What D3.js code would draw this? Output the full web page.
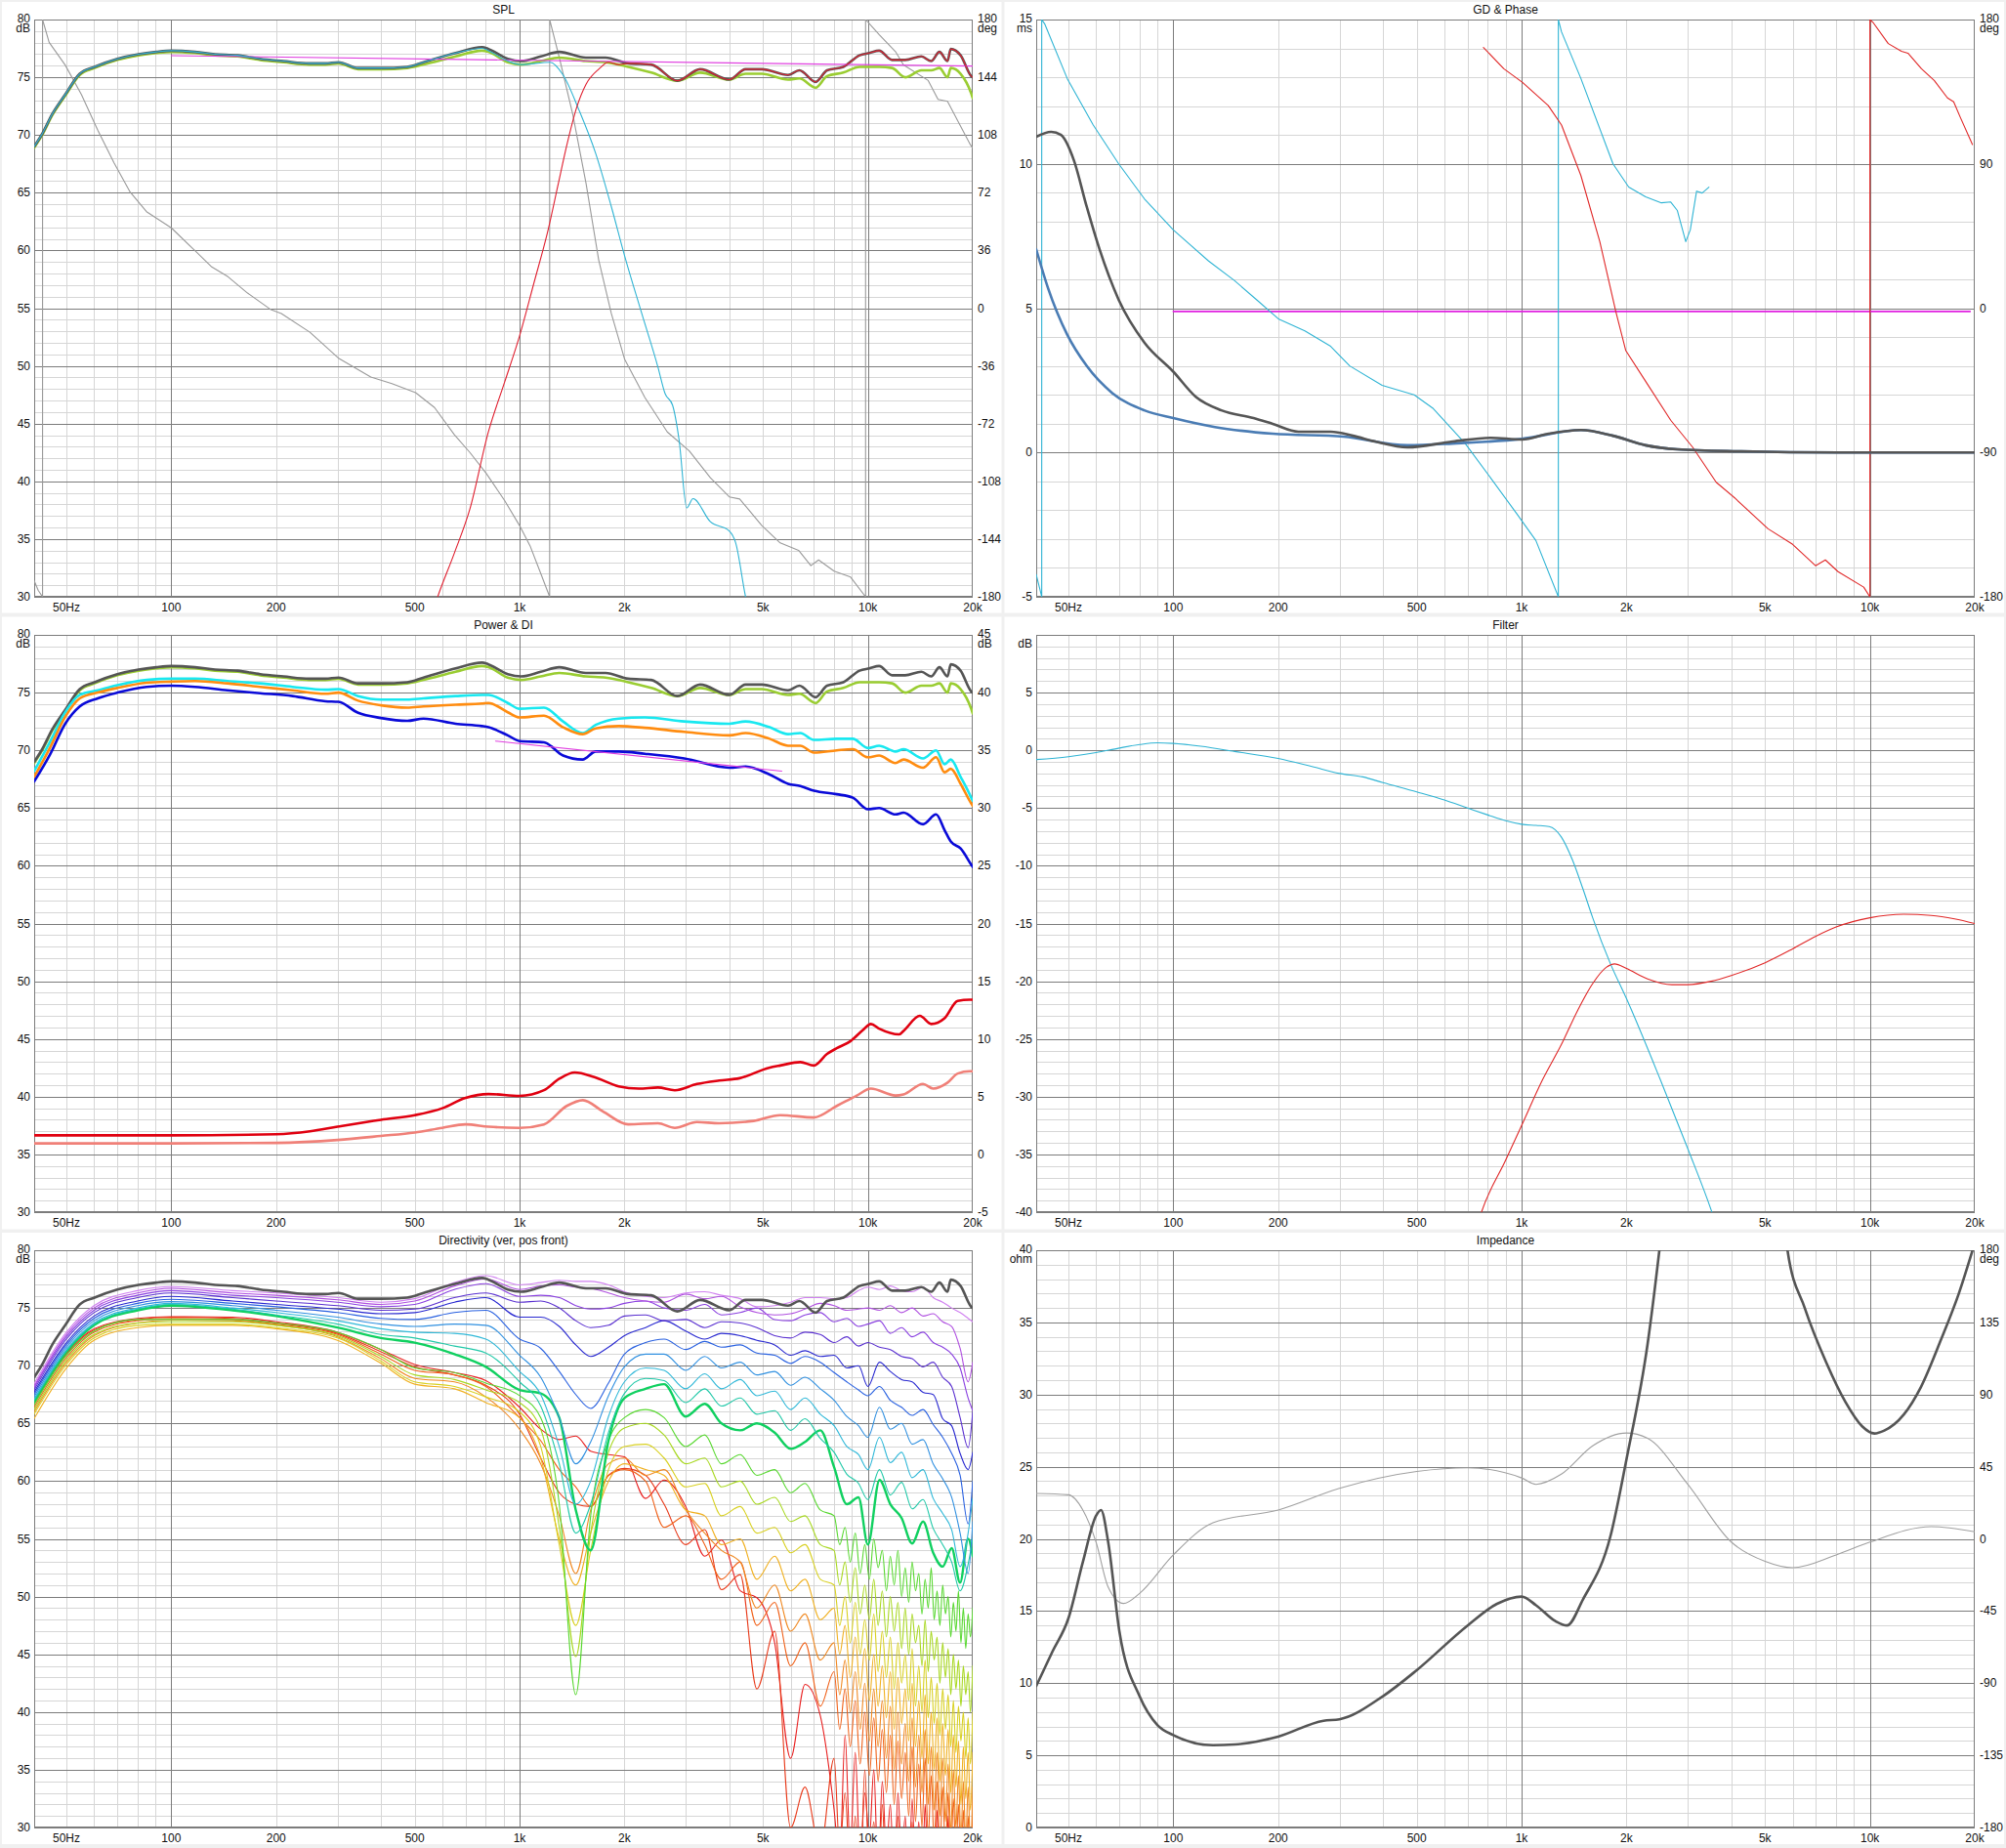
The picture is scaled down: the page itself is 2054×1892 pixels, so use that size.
<!DOCTYPE html>
<html><head><meta charset="utf-8">
<script src="https://cdn.jsdelivr.net/npm/d3@7"></script>
<style>
body{margin:0;background:#f0f0f0;}
text{font-family:"Liberation Sans",Arial,sans-serif;font-size:12px;fill:#111;}
</style>
</head><body><script>
// ---------------- DATA ----------------
const X_TICKS = [50,100,200,500,1000,2000,5000,10000,20000];
const X_LABELS = ["50Hz","100","200","500","1k","2k","5k","10k","20k"];

// SPL panel
const SPL_F = [40.4,42.6,45.5,49.6,54.6,60.2,70,80.5,90.6,100,117,133.5,155,180,210,249,277,302,344,400,476,530,655,780,814,925,1011,1150,1300,1550,1766,2052,2388,2836,3299,4000,4454,4962,5899,6358,7080,7635,8500,9466,10100,10770,11740,12800,14250,15200,16050,16930,17300,18460,19800,20000];
const SPL_ONAXIS = [69.0,70.1,71.8,73.5,75.3,75.9,76.6,77.0,77.2,77.3,77.2,77.0,76.9,76.6,76.4,76.2,76.2,76.3,75.8,75.8,75.9,76.3,77.1,77.6,77.45,76.6,76.4,76.8,77.2,76.7,76.7,76.2,76.1,74.7,75.7,74.8,75.7,75.7,75.2,75.6,74.6,75.6,75.9,76.9,77.1,77.3,76.5,76.5,76.8,76.4,77.2,76.4,77.45,76.9,75.1,75.0];
const SPL_LW = [68.9,70.0,71.7,73.4,75.2,75.8,76.5,76.9,77.1,77.2,77.1,76.9,76.8,76.5,76.3,76.1,76.1,76.2,75.7,75.7,75.8,76.1,76.8,77.3,77.2,76.3,76.1,76.4,76.7,76.4,76.3,75.9,75.4,74.7,75.4,74.8,75.3,75.3,74.8,74.9,74.1,75.1,75.4,75.9,75.9,75.9,75.8,75.0,75.6,75.6,75.8,75.0,75.8,75.3,73.6,73.2];
const WOOF_F = [40.4,42.6,45.5,49.6,54.6,60.2,70,80.5,90.6,100,117,133.5,155,180,210,249,277,302,344,400,476,530,655,780,814,925,1011,1224,1333,1484,1654,1834,2004,2245,2496,2617,2749,2870,3020,3148,3530,4000,4170,4455,4700];
const WOOF_SPL = [69.0,70.1,71.8,73.5,75.3,75.9,76.6,77.0,77.2,77.3,77.2,77.0,76.9,76.6,76.4,76.2,76.2,76.3,75.8,75.8,75.9,76.3,77.1,77.5,77.3,76.4,76.1,76.3,75.2,72.1,68.4,63.8,59.5,54.5,49.9,47.6,46.6,43.6,37.7,38.5,36.5,35.7,34.7,30.0,27.0];
const TWT_F = [560,582,650,720,814,906,1000,1100,1208,1292,1366,1459,1552,1687,1801,1925,2052,2388,2836,3299,4000,4454,4962,5899,6358,7080,7635,8500,9466,10100,10770,11740,12800,14250,15200,16050,16930,17300,18460,19800,20000];
const TWT_SPL = [28.5,30.0,33.8,37.6,44.3,48.6,52.6,57.2,61.8,65.8,69.1,72.4,74.4,75.7,76.3,76.1,76.2,76.1,74.7,75.7,74.8,75.7,75.7,75.2,75.6,74.6,75.6,75.9,76.9,77.1,77.3,76.5,76.5,76.8,76.4,77.2,76.4,77.45,76.9,75.1,75.0];
const SPL_PH_F = [40.4,41.5,42.7,42.7,44.6,49.6,55.2,61.5,68.5,76.2,84.9,100,117,130.7,145.5,165.6,192.5,207,250,303,374,430,503,570,650,720,802,906,1000,1074,1150,1220,1220,1300,1422,1552,1687,1834,2004,2290,2655,3070,3530,4000,4285,4962,5600,6325,6860,7220,8000,8920,9850,9850,10770,12000,12660,14900,15900,16930,18460,19730,20000];
const SPL_PH = [-170,-176,-180,180,165.8,151.6,133.3,111,90.6,72.4,60.2,50.1,35.8,25.7,19.6,9.4,-0.7,-3.3,-15,-31.4,-43,-47,-52.7,-62,-79,-90,-103,-120,-135.6,-148.7,-165.4,-180,180,156.4,120.7,77.7,30.1,-3.3,-32,-55.7,-77.2,-89,-105.8,-117.7,-119,-135.6,-146.4,-151,-160.6,-157,-164,-167.7,-180,180,170.7,160,151.7,142,130.2,129,113.5,101.6,100];
const SPL_TARGET_F = [100,20000];
const SPL_TARGET = [76.87,75.97];

// GD & Phase panel
const GD_F = [40.4,44.6,47.6,51.8,56.4,61.4,69.7,82.6,100,116,137.5,170,193,228.7,283,328,380,470,634,815,1000,1193,1480,1830,2270,2800,4270,8100,20000];
const GD_TOTAL = [10.94,11.11,11.0,10.13,8.52,7.04,5.29,3.81,2.8,1.93,1.46,1.19,0.99,0.72,0.72,0.58,0.38,0.18,0.38,0.51,0.45,0.65,0.78,0.58,0.25,0.11,0.04,0.0,0.0];
const GD_WF = [40.4,43.7,49.6,56.4,66.8,82.6,100,131.7,193,308,470,634,1000,1480,1830,2270,2800,4270,8100,20000];
const GD_WOOF = [7.04,5.69,4.08,3.0,2.06,1.46,1.19,0.88,0.65,0.55,0.25,0.31,0.47,0.78,0.58,0.25,0.11,0.04,0.0,0.0];
const PHW_F = [40.4,41.9,41.9,42.8,49.6,58.9,69.7,82.6,100,126.3,149.7,173.6,201,238.6,283,321,397.6,491.6,557.7,689,817,967,1099,1275,1275,1302,1480,1830,2030,2270,2520,2680,2800,2960,3050,3180,3300,3450];
const PHW = [-166,-180,180,177,143.2,114.2,90,68.2,48.8,29.4,17.3,5.2,-6.9,-14.2,-23.8,-36,-48.1,-54.1,-62.6,-84.4,-106.2,-128,-144.9,-180,180,172.3,143.2,90,75.5,69.4,65.7,66.2,60.9,41.5,48.8,73,71.8,75.5];
const PHT_F = [777,889,1006,1193,1302,1480,1677,1864,1990,2270,2680,3100,3620,4090,5100,6000,6980,7450,8100,9600,10000,10000,10200,11290,12320,12860,14060,15300,16700,17400,18180,19700];
const PHT = [162.6,149.3,140.8,126.3,114.2,82.7,41.5,-2.1,-26.3,-45.6,-69.9,-86.8,-108.6,-118.3,-137.6,-147.3,-160.6,-157,-164.3,-174,-180,180,178.3,165,160.2,159,149.3,142,131.1,128.7,119,102];
const PH_TARGET_F = [100,19400];
const PH_TARGET = [-2.06,-2.06];

// Power & DI panel
const PWR_F = [40.4,44.8,49.6,54.6,61.5,70,85,100,117,145,180,223,277,302,344,400,476,530,655,780,814,925,1000,1175,1333,1517,1654,1925,2290,2970,4000,4455,5225,5900,6400,7000,8140,9050,10000,10770,12000,12660,14400,15700,16600,17300,18460,19800,20000];
const PWR_ER = [68.2,70.7,73.3,74.8,75.2,75.65,76.1,76.2,76.2,76.0,75.8,75.5,75.25,75.3,74.7,74.4,74.4,74.5,74.7,74.8,74.8,74.1,73.6,73.7,72.5,71.5,72.2,72.75,72.85,72.5,72.3,72.5,72.0,71.4,71.5,70.9,71.0,71.0,70.2,70.4,69.9,70.1,69.3,70.0,68.8,69.2,67.7,65.9,65.6];
const PWR_ERH = [67.7,70.2,72.9,74.5,75.0,75.4,75.85,75.95,76.0,75.8,75.5,75.2,74.9,75.0,74.3,73.9,73.7,73.8,73.95,74.05,74.1,73.3,72.85,73.0,72.0,71.4,71.9,72.1,71.95,71.6,71.3,71.5,71.0,70.4,70.4,69.8,70.0,70.1,69.4,69.55,68.9,69.2,68.5,69.4,68.1,68.4,67.1,65.4,65.2];
const PWR_SP = [67.3,69.6,72.3,73.8,74.5,75.0,75.5,75.6,75.5,75.2,74.95,74.7,74.25,74.2,73.25,72.8,72.55,72.75,72.3,72.1,72.0,71.3,70.8,70.7,69.55,69.2,69.9,69.9,69.7,69.3,68.5,68.6,67.9,67.1,66.9,66.5,66.2,65.9,64.9,65.0,64.45,64.6,63.6,64.45,63.1,62.1,61.5,60.1,59.9];
const PWR_SLOPE_F = [853,5660];
const PWR_SLOPE = [70.8,68.2];
const DI_F = [40.4,100,200,250,300,400,500,600,700,814,1000,1175,1300,1440,1640,1925,2200,2496,2790,3230,3740,4285,5200,5600,6400,7000,7635,8140,8900,9700,10200,10770,12300,12660,14100,15200,16600,18100,19600,20000];
const DI_SP = [1.65,1.65,1.75,2.0,2.4,3.0,3.4,4.0,4.9,5.23,5.07,5.56,6.55,7.1,6.7,5.9,5.7,5.8,5.56,6.1,6.4,6.6,7.5,7.7,8.0,7.7,8.7,9.2,9.8,10.8,11.3,10.9,10.4,10.7,12.0,11.3,11.8,13.3,13.4,13.4];
const DIER_F = [40.4,100,200,300,400,500,600,700,814,1000,1175,1366,1520,1730,2050,2496,2790,3230,3740,4700,5600,7000,8140,9300,10200,12000,12660,14400,15400,16900,18100,19600,20000];
const DI_ER = [0.95,0.95,1.0,1.25,1.6,1.9,2.3,2.6,2.4,2.3,2.6,4.2,4.7,3.75,2.6,2.7,2.3,2.8,2.7,2.9,3.4,3.2,4.2,5.1,5.7,5.1,5.2,6.1,5.7,6.2,7.0,7.2,7.2];

// Filter panel
const FLT_W_F = [40.4,50,60,70,80,90,100,120,150,200,250,300,350,400,500,600,700,800,900,1000,1100,1200,1300,1400,1500,1600,1800,2000,2500,3000,3500,3700];
const FLT_W = [-0.8,-0.55,-0.2,0.2,0.5,0.65,0.6,0.35,-0.1,-0.7,-1.4,-2.0,-2.3,-2.8,-3.6,-4.3,-5.0,-5.6,-6.1,-6.4,-6.5,-6.6,-7.5,-9.5,-12,-14.5,-18.5,-21.5,-28.5,-34.5,-39.8,-42];
const FLT_T_F = [740,767,900,1000,1150,1300,1450,1600,1750,1850,2000,2300,2700,3000,3500,4000,5000,6000,7000,8000,10000,12500,15000,17500,20000];
const FLT_T = [-41.5,-40,-35.5,-32.5,-28.5,-25.5,-22.5,-20.2,-18.8,-18.5,-18.9,-19.8,-20.3,-20.3,-20.0,-19.5,-18.4,-17.2,-16.1,-15.3,-14.5,-14.2,-14.3,-14.6,-15.0];

// Directivity panel
const DIR_F = [40,50,60,80,100,150,200,300,400,500,650,800,1000,1150,1300,1450,1600,1800,2000,2300,2600,3000,3400,3800,4300,4800,5400,6000,6600,7300,8000,8700,9400,10000,10800,11600,12500,13400,14400,15400,16400,17400,18400,19400,20000];
const DIR_F_LO = [40,50,60,80,100,150,200,300,400,500,650,800,1000,1150,1300,1450,1600,1800,2000,2300,2600,3000,3400,3800,4300,4800,5400,6000,6600,7300];
const DIR_F_HI = [8000,8300,8600,8900,9200,9500,9800,10100,10400,10700,11000,11300,11600,11900,12200,12500,12800,13100,13400,13700,14000,14300,14600,14900,15200,15500,15800,16100,16400,16700,17000,17300,17600,17900,18200,18500,18800,19100,19400,19700,20000];
const DIR_C01 = [68.2,72.9,75.2,76.5,76.85,76.5,76.3,75.9,75.5,75.8,77.2,77.8,77.0,77.2,77.4,77.3,77.3,77.0,76.4,76.0,75.9,76.3,76.4,76.1,75.8,75.1,75.2,75.5,75.9,75.9,75.8,75.9,76.5,76.8,76.6,76.9,76.5,76.4,76.8,75.9,75.5,75.0,74.6,74.1,73.8];
const DIR_C02 = [68.0,72.7,75.0,76.3,76.7,76.3,76.1,75.7,75.3,75.6,76.9,77.5,76.6,76.9,77.0,76.8,76.7,76.3,75.9,75.6,75.5,76.2,75.8,76.0,75.1,74.6,74.4,74.5,74.9,75.4,75.2,74.8,74.9,75.0,74.8,75.2,74.6,75.0,74.3,74.5,73.8,73.4,71.5,68.6,70.3];
const DIR_C03 = [67.9,72.5,74.8,76.1,76.5,76.1,75.9,75.5,75.1,75.3,76.6,77.1,76.0,76.1,75.9,75.2,74.9,75.0,75.4,75.6,75.0,74.8,75.3,74.4,74.6,75.0,74.0,73.9,74.4,74.6,73.8,74.1,73.4,73.6,73.9,72.8,73.3,72.5,72.9,72.0,71.6,71.0,69.8,67.2,66.1];
const DIR_C04 = [67.7,72.3,74.6,75.9,76.3,75.9,75.6,75.2,74.8,74.9,75.9,76.3,75.5,75.6,75.0,73.9,73.3,73.5,74.3,74.4,73.9,74.0,73.3,73.8,73.7,73.3,72.6,72.4,72.9,72.7,72.0,72.5,71.7,72.0,71.6,71.4,70.8,70.6,69.9,70.3,69.0,68.2,65.5,62.9,66.0];
const DIR_C05 = [67.5,72.0,74.3,75.6,76.0,75.6,75.3,74.9,74.5,74.6,75.5,75.9,74.2,74.2,73.4,71.8,70.8,71.6,72.6,73.3,73.9,73.0,72.3,72.8,72.6,72.2,71.8,70.9,71.3,70.8,70.9,69.8,70.0,68.2,70.3,69.5,68.8,68.6,67.7,67.5,65.4,64.8,62.4,61.0,62.5];
const DIR_C06 = [67.3,71.8,74.1,75.4,75.75,75.4,75.1,74.6,74.1,74.0,74.6,74.8,72.3,71.5,69.5,67.5,66.3,68.5,71.0,72.0,72.3,71.4,72.1,71.6,71.8,71.1,70.9,70.2,70.8,70.3,69.4,68.6,67.9,67.4,68.2,67.0,66.4,65.7,66.2,64.9,63.8,62.4,60.5,56.3,60.0];
const DIR_C07 = [67.1,71.6,73.9,75.2,75.55,75.2,74.8,74.2,73.6,73.4,73.6,73.5,70.9,69.0,65.5,61.5,63.4,67.4,69.9,71.0,71.0,69.6,70.8,69.8,70.3,69.2,69.5,68.3,69.0,68.0,67.0,65.6,64.8,63.8,66.4,64.5,65.0,63.2,63.6,61.5,60.2,58.6,55.5,52.0,56.5];
const DIR_C08 = [66.9,71.4,73.7,75.0,75.4,75.0,74.6,73.9,73.2,72.9,72.8,72.3,69.5,67.5,63.0,58.0,60.0,65.6,68.6,69.8,69.6,68.0,69.3,68.0,68.8,67.4,67.8,66.2,67.2,65.8,64.8,63.0,62.3,61.0,63.8,61.6,62.5,60.3,61.0,58.5,57.2,55.8,52.6,55.5,58.5];
const DIR_C09 = [66.8,71.3,73.6,74.9,75.3,74.9,74.4,73.6,72.7,72.4,71.7,71.1,68.6,66.5,61.5,55.5,58.0,64.2,67.6,68.9,68.7,66.8,68.0,66.5,67.2,65.8,66.1,64.4,65.4,63.7,62.5,60.6,59.8,58.4,61.0,58.8,59.9,57.6,58.4,55.9,54.5,53.0,50.5,52.8,55.0];
const DIR_C10 = [66.7,71.2,73.5,74.8,75.2,74.8,74.3,73.3,72.4,72.0,71.0,69.9,67.9,67.6,65.5,57.5,54.0,63.5,67.2,68.0,68.4,65.6,66.7,65.0,64.4,65.0,64.2,62.8,63.4,64.4,61.2,58.0,58.6,54.5,60.1,58.0,56.8,54.6,56.5,53.8,52.6,54.2,51.2,55.0,53.5];
const DIR_C11 = [66.4,70.9,73.0,74.0,74.0,74.0,73.7,72.9,71.4,69.8,69.4,68.5,67.4,65.5,58.0,41.5,57.0,63.5,65.5,66.2,65.5,63.0,64.0,61.5,62.3,60.5,61.0,59.0,59.8,57.5];
const DIR_C11_HI = [57.0,54.5,56.0,53.0,55.5,52.0,54.5,51.5,55.0,52.5,54.0,50.5,53.5,51.0,54.0,50.0,52.5,49.5,53.0,50.5,52.0,48.5,51.5,49.0,52.5,48.0,50.5,47.5,51.0,48.5,50.0,46.5,49.5,47.0,50.5,46.0,49.0,45.5,48.5,46.5,49.0];
const DIR_C12 = [66.0,70.5,72.7,73.7,73.8,73.8,73.5,72.6,70.8,69.2,68.8,67.9,66.8,64.5,56.0,44.8,55.5,62.5,64.6,65.0,64.0,61.5,62.0,59.5,60.0,58.0,58.6,56.5,57.0,54.5];
const DIR_C12_HI = [54.0,51.0,53.0,49.5,52.5,48.5,51.0,48.0,51.5,47.5,50.5,46.5,50.0,47.0,49.5,45.5,49.0,45.0,48.5,46.0,47.5,44.0,48.0,43.5,47.0,44.5,46.5,42.5,46.0,43.0,45.5,41.5,45.0,42.0,44.5,40.5,44.0,41.5,43.5,40.0,44.0];
const DIR_C13 = [65.6,70.1,72.4,73.5,73.6,73.6,73.3,72.4,70.4,68.6,68.2,67.3,66.0,63.0,54.5,47.5,54.0,61.0,63.0,63.2,62.0,59.5,59.8,57.0,57.8,55.5,56.0,53.8,54.5,51.5];
const DIR_C13_HI = [51.0,47.5,50.0,46.0,49.5,45.0,48.0,44.5,48.5,43.5,47.0,43.0,46.5,42.0,46.0,42.5,45.0,41.0,45.5,40.5,44.0,40.0,44.5,39.5,43.0,39.0,42.5,38.0,42.0,38.5,41.5,37.0,41.0,36.5,40.5,37.5,40.0,36.0,39.5,35.5,40.0];
const DIR_C14 = [65.2,69.8,72.2,73.3,73.5,73.5,73.2,72.2,70.2,68.4,68.0,66.8,65.5,62.0,55.0,51.0,55.5,60.0,61.5,61.0,60.5,57.5,57.0,54.5,55.0,51.5,53.5,50.5,51.5,48.0];
const DIR_C14_HI = [49.0,45.0,47.5,43.0,46.5,42.0,45.5,41.0,45.0,40.5,44.0,39.5,43.5,38.5,43.0,39.0,42.0,37.5,42.5,37.0,41.0,36.0,41.5,35.5,40.0,35.0,39.5,34.0,39.0,34.5,38.5,33.0,38.0,33.5,37.5,32.0,37.0,32.5,36.5,31.5,36.5];
const DIR_C15 = [65.8,70.3,72.6,73.7,73.95,73.9,73.5,72.5,70.6,68.9,68.6,67.3,64.5,61.5,57.0,52.0,57.5,61.5,62.0,60.5,61.0,57.5,55.5,54.0,53.0,49.0,51.0,47.0,48.5,44.5];
const DIR_C15_HI = [46.0,41.5,44.5,40.0,43.5,38.5,42.5,37.5,42.0,37.0,41.0,36.0,40.5,35.0,40.0,35.5,39.0,34.0,39.5,33.5,38.0,33.0,38.5,32.0,37.0,31.5,36.5,31.0,36.0,30.5,35.5,29.5,35.0,30.0,34.5,29.0,34.0,28.5,33.5,28.0,33.5];
const DIR_C16 = [66.2,70.7,72.9,73.9,74.1,74.0,73.6,72.7,71.0,69.6,69.2,68.2,65.5,63.5,61.0,59.5,57.8,60.5,61.0,60.0,56.0,57.0,54.5,51.5,53.0,47.5,49.5,44.0,46.0,40.5];
const DIR_C16_HI = [43.5,38.5,42.0,37.0,41.0,35.5,40.0,34.5,39.5,34.0,38.5,33.0,38.0,32.0,37.5,32.5,36.5,31.0,37.0,30.5,35.5,30.0,36.0,29.0,34.5,28.5,34.0,28.0,33.5,27.5,33.0,27.0,32.5,27.5,32.0,26.5,31.5,26.0,31.0,26.5,31.5];
const DIR_C17 = [66.5,71.0,73.1,74.0,74.2,74.1,73.7,72.8,71.2,69.9,69.2,68.3,65.8,62.0,59.0,58.0,57.8,60.5,61.1,60.5,58.0,54.5,55.8,50.6,51.9,42.0,47.0,30.0,33.5,28.0];
const DIR_C17_HI = [36.0,28.0,33.0,26.0,31.0,25.0,35.0,26.0,30.5,24.0,32.0,25.0,29.0,24.0,31.0,23.0,28.5,24.0,30.5,23.0,28.0,22.0,30.0,23.0,27.5,22.0,29.0,21.0,28.0,22.0,27.5,21.0,28.5,20.0,27.0,21.0,28.0,20.0,26.5,21.0,27.0];
const DIR_C18 = [66.6,71.1,73.2,74.1,74.25,74.2,73.8,72.9,71.4,70.1,69.4,68.7,66.4,64.5,63.6,63.9,62.6,62.3,62.1,58.5,60.1,57.8,53.5,54.9,50.5,49.9,46.0,36.0,42.4,39.7];
const DIR_C18_HI = [31.5,27.0,38.0,28.0,36.5,27.0,33.0,29.0,35.0,26.0,34.0,28.0,32.0,25.0,33.0,27.0,31.0,25.0,32.5,26.0,30.5,24.0,32.0,25.5,30.0,24.0,31.5,24.5,29.5,23.0,31.0,24.0,29.0,23.0,30.0,23.5,28.5,22.5,29.5,23.0,28.0];

// Impedance panel
const IMP_F = [40.4,45,50,55,60,62,65,70,80,90,100,130,150,200,270,300,400,500,700,850,1000,1100,1250,1350,1500,1800,2000,2300,2500,2700,3500,4500,5400,5800,6500,7500,8500,9500,10300,11000,12500,14000,16000,18000,20000];
const IMP_OHM = [9.8,12.2,14.5,18.4,21.6,22.0,19.8,13.6,9.1,7.1,6.4,5.7,5.75,6.3,7.4,7.5,9.1,10.9,14.0,15.5,16.0,15.4,14.3,14.0,15.8,20.2,25.5,33.5,40.5,48,70,70,48,40,36,32.2,29.5,27.8,27.3,27.5,28.6,30.5,33.8,37.0,40.5];
const IMP_PH_F = [40.4,50,55,60,65,72,80,100,130,200,300,500,700,1000,1100,1300,1600,2000,2300,3000,4000,5000,6000,8000,10000,15000,20000];
const IMP_PH = [28.3,27.5,18,-2,-30,-40.3,-34,-10,10,18,31.5,42,44.3,38,34,40.3,58,66,62.7,34,-2,-14,-18,-10,-2,7.6,4.4];

// ---------------- STYLES / LAYOUT ----------------
const W = 2054, H = 1892, PW = 961, PH = 591;
const F_MIN = 40.4, F_MAX = 20000;
const COL_L = [35, 1061], ROW_T = [20, 650, 1280];
const MAJOR = "#7c7c7c", MINOR = "#d6d6d6";

const svg = d3.select("body").append("svg").attr("width", W).attr("height", H);
svg.append("rect").attr("width", W).attr("height", H).attr("fill", "#f0f0f0");
[[2,1025.5],[1028.5,2052]].forEach(([x0,x1]) => {
  [[2,627.5],[631.5,1258.5],[1262,1888]].forEach(([y0,y1]) => {
    svg.append("rect").attr("x",x0).attr("y",y0).attr("width",x1-x0).attr("height",y1-y0).attr("fill","#fff");
  });
});

let clipId = 0;
function panel(o) {
  const L = o.left, T = o.top, R = L + PW, B = T + PH;
  const g = svg.append("g");
  const x = d3.scaleLog().domain([F_MIN, F_MAX]).range([L, R]);
  const yL = d3.scaleLinear().domain(o.yl.domain).range([B, T]);
  const yR = o.yr ? d3.scaleLinear().domain(o.yr.domain).range([B, T]) : null;
  const grid = g.append("g").attr("shape-rendering", "crispEdges");
  const [y0, y1] = o.yl.domain;
  d3.range(y0, y1 + 1e-6, o.yl.minor).forEach(v => {
    const isMaj = Math.abs((v - y0) / o.yl.major - Math.round((v - y0) / o.yl.major)) < 1e-6;
    if (isMaj) return;
    grid.append("line").attr("x1", L).attr("x2", R).attr("y1", Math.round(yL(v)) + 0.5).attr("y2", Math.round(yL(v)) + 0.5).attr("stroke", MINOR);
  });
  const minorF = [];
  [10, 100, 1000, 10000].forEach(d => { for (let k = 2; k <= 9; k++) { const f = k * d; if (f > F_MIN && f < F_MAX) minorF.push(f); } });
  minorF.forEach(f => grid.append("line").attr("x1", Math.round(x(f)) + 0.5).attr("x2", Math.round(x(f)) + 0.5).attr("y1", T).attr("y2", B).attr("stroke", MINOR));
  d3.range(y0, y1 + 1e-6, o.yl.major).forEach(v => {
    grid.append("line").attr("x1", L).attr("x2", R).attr("y1", Math.round(yL(v)) + 0.5).attr("y2", Math.round(yL(v)) + 0.5).attr("stroke", MAJOR);
  });
  [100, 1000, 10000].forEach(f => grid.append("line").attr("x1", Math.round(x(f)) + 0.5).attr("x2", Math.round(x(f)) + 0.5).attr("y1", T).attr("y2", B).attr("stroke", MAJOR));
  grid.append("rect").attr("x", L + 0.5).attr("y", T + 0.5).attr("width", PW - 1).attr("height", PH - 1).attr("fill", "none").attr("stroke", MAJOR);

  X_TICKS.forEach((f, i) => g.append("text").attr("x", x(f)).attr("y", B + 14.5).attr("text-anchor", "middle").text(X_LABELS[i]));
  d3.range(y0, y1 + 1e-6, o.yl.major).forEach(v => {
    const top = Math.abs(v - y1) < 1e-6;
    g.append("text").attr("x", L - 4).attr("y", yL(v) + (top ? 3 : 4)).attr("text-anchor", "end").text(top && o.yl.hideTop ? "" : v);
  });
  g.append("text").attr("x", L - 4).attr("y", T + 13).attr("text-anchor", "end").text(o.yl.unit);
  if (yR) {
    o.yr.ticks.forEach(v => {
      const top = v === o.yr.domain[1];
      g.append("text").attr("x", R + 5).attr("y", yR(v) + (top ? 3 : 4)).attr("text-anchor", "start").text(v);
    });
    g.append("text").attr("x", R + 5).attr("y", T + 13).attr("text-anchor", "start").text(o.yr.unit);
  }
  g.append("text").attr("x", (L + R) / 2).attr("y", T - 6.5).attr("text-anchor", "middle").text(o.title);

  const id = "clip" + (clipId++);
  svg.append("clipPath").attr("id", id).append("rect").attr("x", L).attr("y", T).attr("width", PW).attr("height", PH);
  const cg = g.append("g").attr("clip-path", `url(#${id})`);
  o.series.forEach(s => {
    const ys = s.axis === "R" ? yR : yL;
    const pts = s.f.map((f, i) => [f, s.v[i]]);
    const line = d3.line().x(d => x(d[0])).y(d => ys(d[1])).curve(s.linear ? d3.curveLinear : d3.curveMonotoneX);
    cg.append("path").attr("d", line(pts)).attr("fill", "none").attr("stroke", s.color)
      .attr("stroke-width", s.w).attr("stroke-linejoin", "round").attr("stroke-linecap", "round");
  });
}

const THICK = 2.6, THIN = 1.1;

panel({
  left: COL_L[0], top: ROW_T[0], title: "SPL",
  yl: { domain: [30, 80], major: 5, minor: 1, unit: "dB" },
  yr: { domain: [-180, 180], ticks: [180,144,108,72,36,0,-36,-72,-108,-144,-180], unit: "deg" },
  series: [
    { f: SPL_PH_F, v: SPL_PH, axis: "R", color: "#9a9a9a", w: THIN, linear: true },
    { f: SPL_F, v: SPL_LW, color: "#9acd32", w: THICK },
    { f: SPL_F, v: SPL_ONAXIS, color: "#555555", w: THICK },
    { f: SPL_TARGET_F, v: SPL_TARGET, color: "#e040e0", w: THIN, linear: true },
    { f: WOOF_F, v: WOOF_SPL, color: "#30b4d4", w: THIN },
    { f: TWT_F, v: TWT_SPL, color: "#e02030", w: THIN }
  ]
});

panel({
  left: COL_L[1], top: ROW_T[0], title: "GD & Phase",
  yl: { domain: [-5, 15], major: 5, minor: 1, unit: "ms" },
  yr: { domain: [-180, 180], ticks: [180, 90, 0, -90, -180], unit: "deg" },
  series: [
    { f: PH_TARGET_F, v: PH_TARGET, axis: "R", color: "#e020e0", w: 1.6, linear: true },
    { f: PHW_F, v: PHW, axis: "R", color: "#30b4d4", w: THIN, linear: true },
    { f: PHT_F, v: PHT, axis: "R", color: "#e02828", w: THIN, linear: true },
    { f: GD_WF, v: GD_WOOF, color: "#4a7cb4", w: THICK },
    { f: GD_F, v: GD_TOTAL, color: "#555555", w: THICK }
  ]
});

panel({
  left: COL_L[0], top: ROW_T[1], title: "Power & DI",
  yl: { domain: [30, 80], major: 5, minor: 1, unit: "dB" },
  yr: { domain: [-5, 45], ticks: [45,40,35,30,25,20,15,10,5,0,-5], unit: "dB" },
  series: [
    { f: SPL_F, v: SPL_LW, color: "#9acd32", w: THICK },
    { f: SPL_F, v: SPL_ONAXIS, color: "#555555", w: THICK },
    { f: PWR_F, v: PWR_ER, color: "#18e8f0", w: THICK },
    { f: PWR_F, v: PWR_ERH, color: "#ff8c10", w: THICK },
    { f: PWR_F, v: PWR_SP, color: "#0a0ad8", w: THICK },
    { f: PWR_SLOPE_F, v: PWR_SLOPE, color: "#e040e0", w: THIN, linear: true },
    { f: DI_F, v: DI_SP, axis: "R", color: "#e00010", w: THICK },
    { f: DIER_F, v: DI_ER, axis: "R", color: "#f08078", w: THICK }
  ]
});

panel({
  left: COL_L[1], top: ROW_T[1], title: "Filter",
  yl: { domain: [-40, 10], major: 5, minor: 1, unit: "dB", hideTop: true },
  series: [
    { f: FLT_W_F, v: FLT_W, color: "#30b4d4", w: THIN },
    { f: FLT_T_F, v: FLT_T, color: "#e02828", w: THIN }
  ]
});

// directivity: full-grid curves and split low/high curves
const DIR_FULL = [DIR_C10, DIR_C09, DIR_C08, DIR_C07, DIR_C06, DIR_C05, DIR_C04, DIR_C03, DIR_C02, DIR_C01];
const DIR_FULL_COLORS = ["#10d060", "#20c8a8", "#30b8d8", "#3090e0", "#2860e0", "#2828d0", "#5a30d0", "#8a40e0", "#b050e0", "#d080f0"];
const DIR_SPLIT = [[DIR_C18, DIR_C18_HI], [DIR_C17, DIR_C17_HI], [DIR_C16, DIR_C16_HI], [DIR_C15, DIR_C15_HI], [DIR_C14, DIR_C14_HI], [DIR_C13, DIR_C13_HI], [DIR_C12, DIR_C12_HI], [DIR_C11, DIR_C11_HI]];
const DIR_SPLIT_COLORS = ["#e82020", "#e83a1a", "#f06018", "#f08820", "#f0b020", "#d8d020", "#a8d820", "#58d830"];
const dirSeries = DIR_SPLIT.map((p, i) => ({ f: DIR_F_LO.concat(DIR_F_HI), v: p[0].concat(p[1]), color: DIR_SPLIT_COLORS[i], w: THIN }))
  .concat(DIR_FULL.map((d, i) => ({ f: DIR_F, v: d, color: DIR_FULL_COLORS[i], w: d === DIR_C10 ? 2.4 : THIN })))
  .concat([{ f: SPL_F, v: SPL_ONAXIS, color: "#555555", w: THICK }]);
panel({
  left: COL_L[0], top: ROW_T[2], title: "Directivity (ver, pos front)",
  yl: { domain: [30, 80], major: 5, minor: 1, unit: "dB" },
  series: dirSeries
});

panel({
  left: COL_L[1], top: ROW_T[2], title: "Impedance",
  yl: { domain: [0, 40], major: 5, minor: 1, unit: "ohm" },
  yr: { domain: [-180, 180], ticks: [180,135,90,45,0,-45,-90,-135,-180], unit: "deg" },
  series: [
    { f: IMP_PH_F, v: IMP_PH, axis: "R", color: "#a0a0a0", w: THIN },
    { f: IMP_F, v: IMP_OHM, color: "#555555", w: THICK }
  ]
});
</script></body></html>
